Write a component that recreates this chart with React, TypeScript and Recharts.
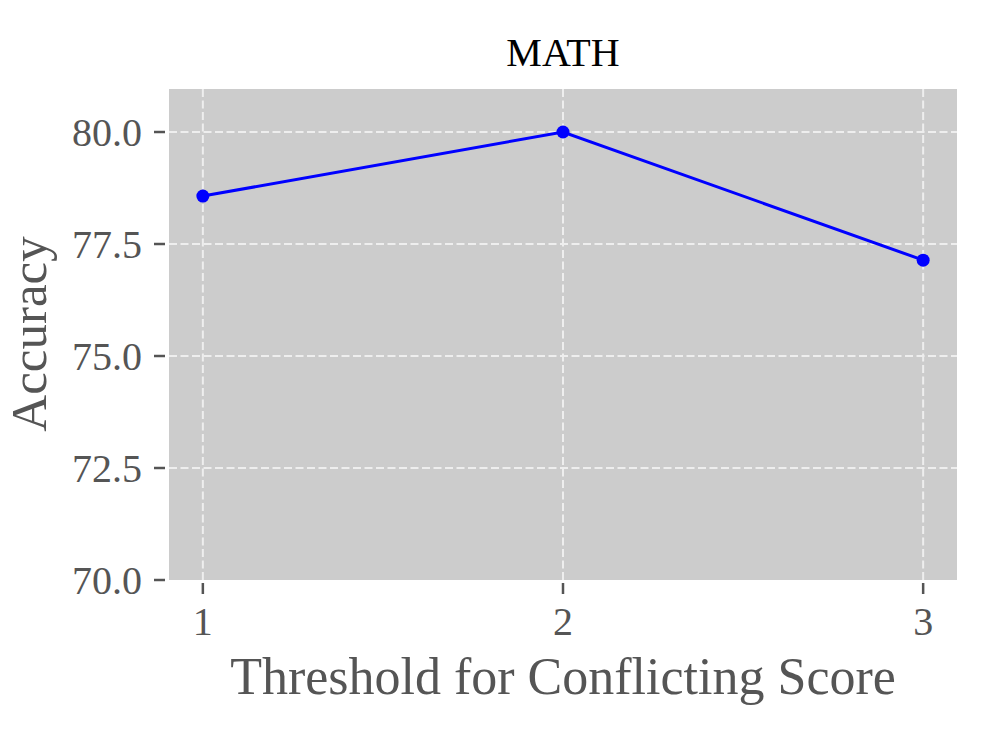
import React from "react";
import { LineChart, Line, XAxis, YAxis, CartesianGrid } from "recharts";

const thresholds = [1, 2, 3];
const accuracy = [78.57, 80.0, 77.14];
const yTicks = [70, 72.5, 75, 77.5, 80];
const xTicks = [1, 2, 3];
const gridY = [72.5, 75, 77.5, 80];
const title = "MATH";
const xLabel = "Threshold for Conflicting Score";
const yLabel = "Accuracy";

const data = thresholds.map((t, i) => ({ threshold: t, accuracy: accuracy[i] }));

const FONT = "'Liberation Serif', 'Times New Roman', serif";
const TICK_COLOR = "#555555";

const YTick = (props: any) => {
  const { x, y, payload } = props;
  return (
    <g>
      <line x1={x - 15} x2={x - 4} y1={y} y2={y} stroke={TICK_COLOR} strokeWidth={2.5} />
      <text x={x - 27} y={y} dy={14} textAnchor="end" fontSize={40} fill={TICK_COLOR} fontFamily={FONT}>
        {Number(payload.value).toFixed(1)}
      </text>
    </g>
  );
};

const XTick = (props: any) => {
  const { x, y, payload } = props;
  return (
    <g>
      <line x1={x} x2={x} y1={y + 3} y2={y + 14} stroke={TICK_COLOR} strokeWidth={2.5} />
      <text x={x} y={y + 55} textAnchor="middle" fontSize={40} fill={TICK_COLOR} fontFamily={FONT}>
        {payload.value}
      </text>
    </g>
  );
};

export default function App() {
  return (
    <div style={{ position: "absolute", left: 0, top: 0, width: 997, height: 747, background: "#ffffff" }}>
      <LineChart width={997} height={747} data={data} margin={{ top: 89, right: 40, left: 0, bottom: 0 }}>
        <CartesianGrid
          fill="#cccccc"
          stroke="#eeeeee"
          strokeWidth={2}
          strokeDasharray="8 3.5"
          horizontalValues={gridY}
          verticalValues={xTicks}
        />
        <XAxis
          type="number"
          dataKey="threshold"
          domain={[0.906, 3.094]}
          ticks={xTicks}
          allowDataOverflow
          axisLine={false}
          tickLine={false}
          tickSize={0}
          tickMargin={0}
          height={167}
          tick={<XTick />}
          interval={0}
        />
        <YAxis
          type="number"
          domain={[70, 80.96]}
          ticks={yTicks}
          allowDataOverflow
          axisLine={false}
          tickLine={false}
          tickSize={0}
          tickMargin={0}
          width={169}
          tick={<YTick />}
          interval={0}
        />
        <Line
          type="linear"
          dataKey="accuracy"
          stroke="#0000ff"
          strokeWidth={3}
          dot={{ r: 6.5, fill: "#0000ff", stroke: "none" }}
          activeDot={false}
          isAnimationActive={false}
        />
        <text x={563} y={66} textAnchor="middle" fontSize={40} fill="#000000" fontFamily={FONT}>
          {title}
        </text>
        <text x={563} y={694} textAnchor="middle" fontSize={52} fill={TICK_COLOR} fontFamily={FONT}>
          {xLabel}
        </text>
        <text
          x={46}
          y={334}
          transform="rotate(-90 46 334)"
          textAnchor="middle"
          fontSize={51}
          fill={TICK_COLOR}
          fontFamily={FONT}
        >
          {yLabel}
        </text>
      </LineChart>
    </div>
  );
}
